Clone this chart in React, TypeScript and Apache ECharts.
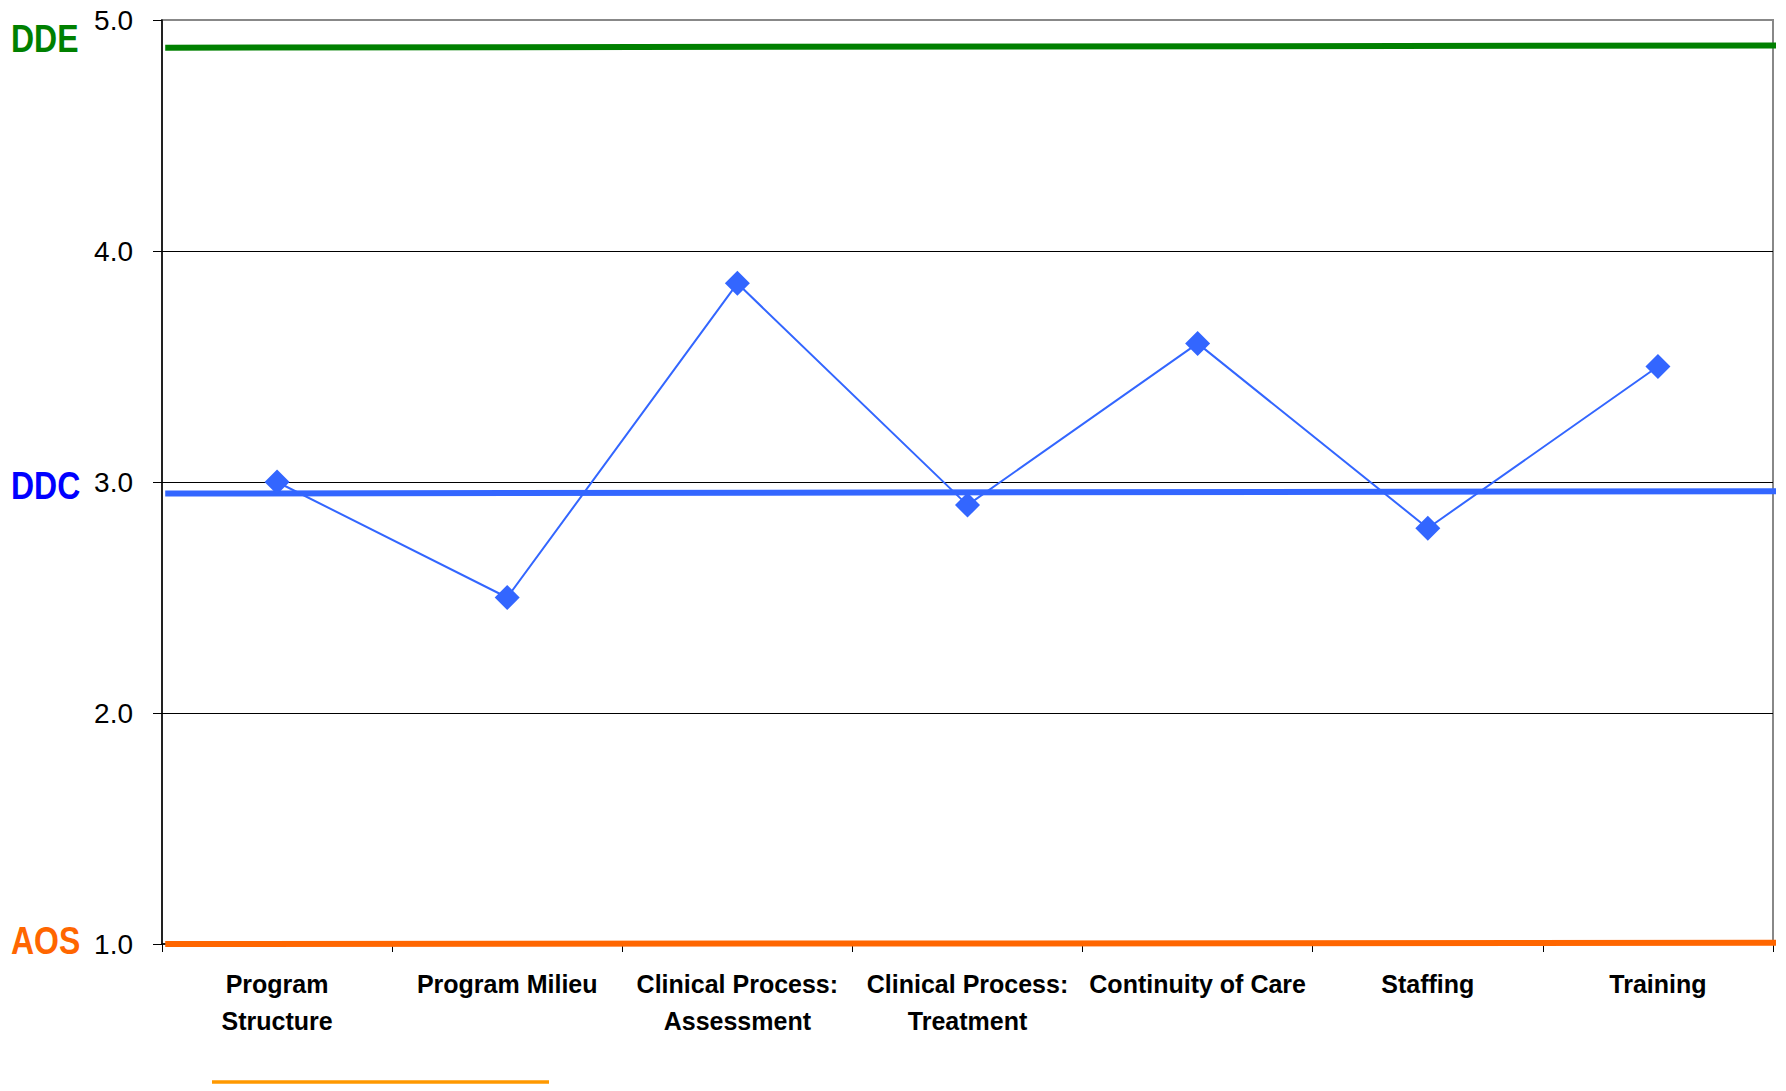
import React, { useEffect, useRef } from "react";
import * as echarts from "echarts";

const categories = [
  "Program\nStructure",
  "Program Milieu",
  "Clinical Process:\nAssessment",
  "Clinical Process:\nTreatment",
  "Continuity of Care",
  "Staffing",
  "Training",
];
const scores = [3.0, 2.5, 3.86, 2.9, 3.6, 2.8, 3.5];
const yTicks = [1, 2, 3, 4, 5];
// reference lines: [xFraction, value] start and end
const ddeLine = [[0.002, 4.88], [1.003, 4.89]];
const ddcLine = [[0.002, 2.95], [1.003, 2.96]];
const aosLine = [[0.002, 1.0], [1.003, 1.005]];
const refLabels = ["DDE", "DDC", "AOS"];
const refColors = ["#008000", "#0000FF", "#FF6600"];
const refLabelY = [38.5, 485.5, 941];

const FONT = '"Liberation Sans", Arial, sans-serif';

export default function App() {
  const ref = useRef<HTMLDivElement>(null);
  useEffect(() => {
    const chart = echarts.init(ref.current!, null, { renderer: "svg" });
    chart.setOption({
      animation: false,
      backgroundColor: "#fff",
      grid: {
        left: 162,
        top: 20,
        right: 13,
        bottom: 147,
        show: true,
        borderColor: "#888",
        borderWidth: 2,
        containLabel: false,
      },
      xAxis: [
        {
          type: "category",
          data: categories,
          boundaryGap: true,
          axisLine: { show: true, lineStyle: { color: "#000", width: 1.5 } },
          axisTick: { show: true, length: 8, lineStyle: { color: "#000", width: 1 } },
          axisLabel: {
            interval: 0,
            margin: 21,
            color: "#000",
            fontFamily: FONT,
            fontWeight: "bold",
            fontSize: 25,
            lineHeight: 37,
          },
          splitLine: { show: false },
        },
        {
          type: "value",
          min: 0,
          max: 1,
          show: false,
          position: "bottom",
          gridIndex: 0,
        },
      ],
      yAxis: {
        type: "value",
        min: yTicks[0],
        max: yTicks[yTicks.length - 1],
        interval: 1,
        axisLine: { show: true, lineStyle: { color: "#000", width: 1.5 } },
        axisTick: { show: true, length: 9, lineStyle: { color: "#000" } },
        axisLabel: {
          margin: 29,
          color: "#000",
          fontFamily: FONT,
          fontSize: 28,
          formatter: (v: number) => v.toFixed(1),
        },
        splitLine: {
          show: true,
          lineStyle: { color: ["#888", "#000", "#000", "#000", "#888"], width: 1 },
        },
      },
      series: [
        {
          type: "line",
          xAxisIndex: 1,
          data: ddeLine,
          symbol: "none",
          clip: false,
          lineStyle: { color: "#008000", width: 6 },
          z: 3,
        },
        {
          type: "line",
          xAxisIndex: 1,
          data: ddcLine,
          symbol: "none",
          clip: false,
          lineStyle: { color: "#3366FF", width: 6 },
          z: 3,
        },
        {
          type: "line",
          xAxisIndex: 1,
          data: aosLine,
          symbol: "none",
          clip: false,
          lineStyle: { color: "#FF6600", width: 6 },
          z: 3,
        },
        {
          type: "line",
          xAxisIndex: 0,
          data: scores,
          symbol: "diamond",
          symbolSize: 25,
          showAllSymbol: true,
          itemStyle: { color: "#3366FF" },
          lineStyle: { color: "#3366FF", width: 2 },
          z: 4,
        },
      ],
      graphic: [
        ...refLabels.map((t, i) => ({
          type: "text",
          x: 11,
          y: refLabelY[i],
          scaleX: 0.82,
          style: {
            text: t,
            fill: refColors[i],
            font: `bold 39px ${FONT}`,
            textAlign: "left",
            textVerticalAlign: "middle",
          },
        })),
        {
          type: "line",
          shape: { x1: 212, y1: 1082, x2: 549, y2: 1082 },
          style: { stroke: "#FF9900", lineWidth: 3.5 },
        },
      ],
    });
    return () => chart.dispose();
  }, []);
  return (
    <div
      ref={ref}
      style={{ position: "fixed", left: 0, top: 0, width: 1786, height: 1091, background: "#fff" }}
    />
  );
}
